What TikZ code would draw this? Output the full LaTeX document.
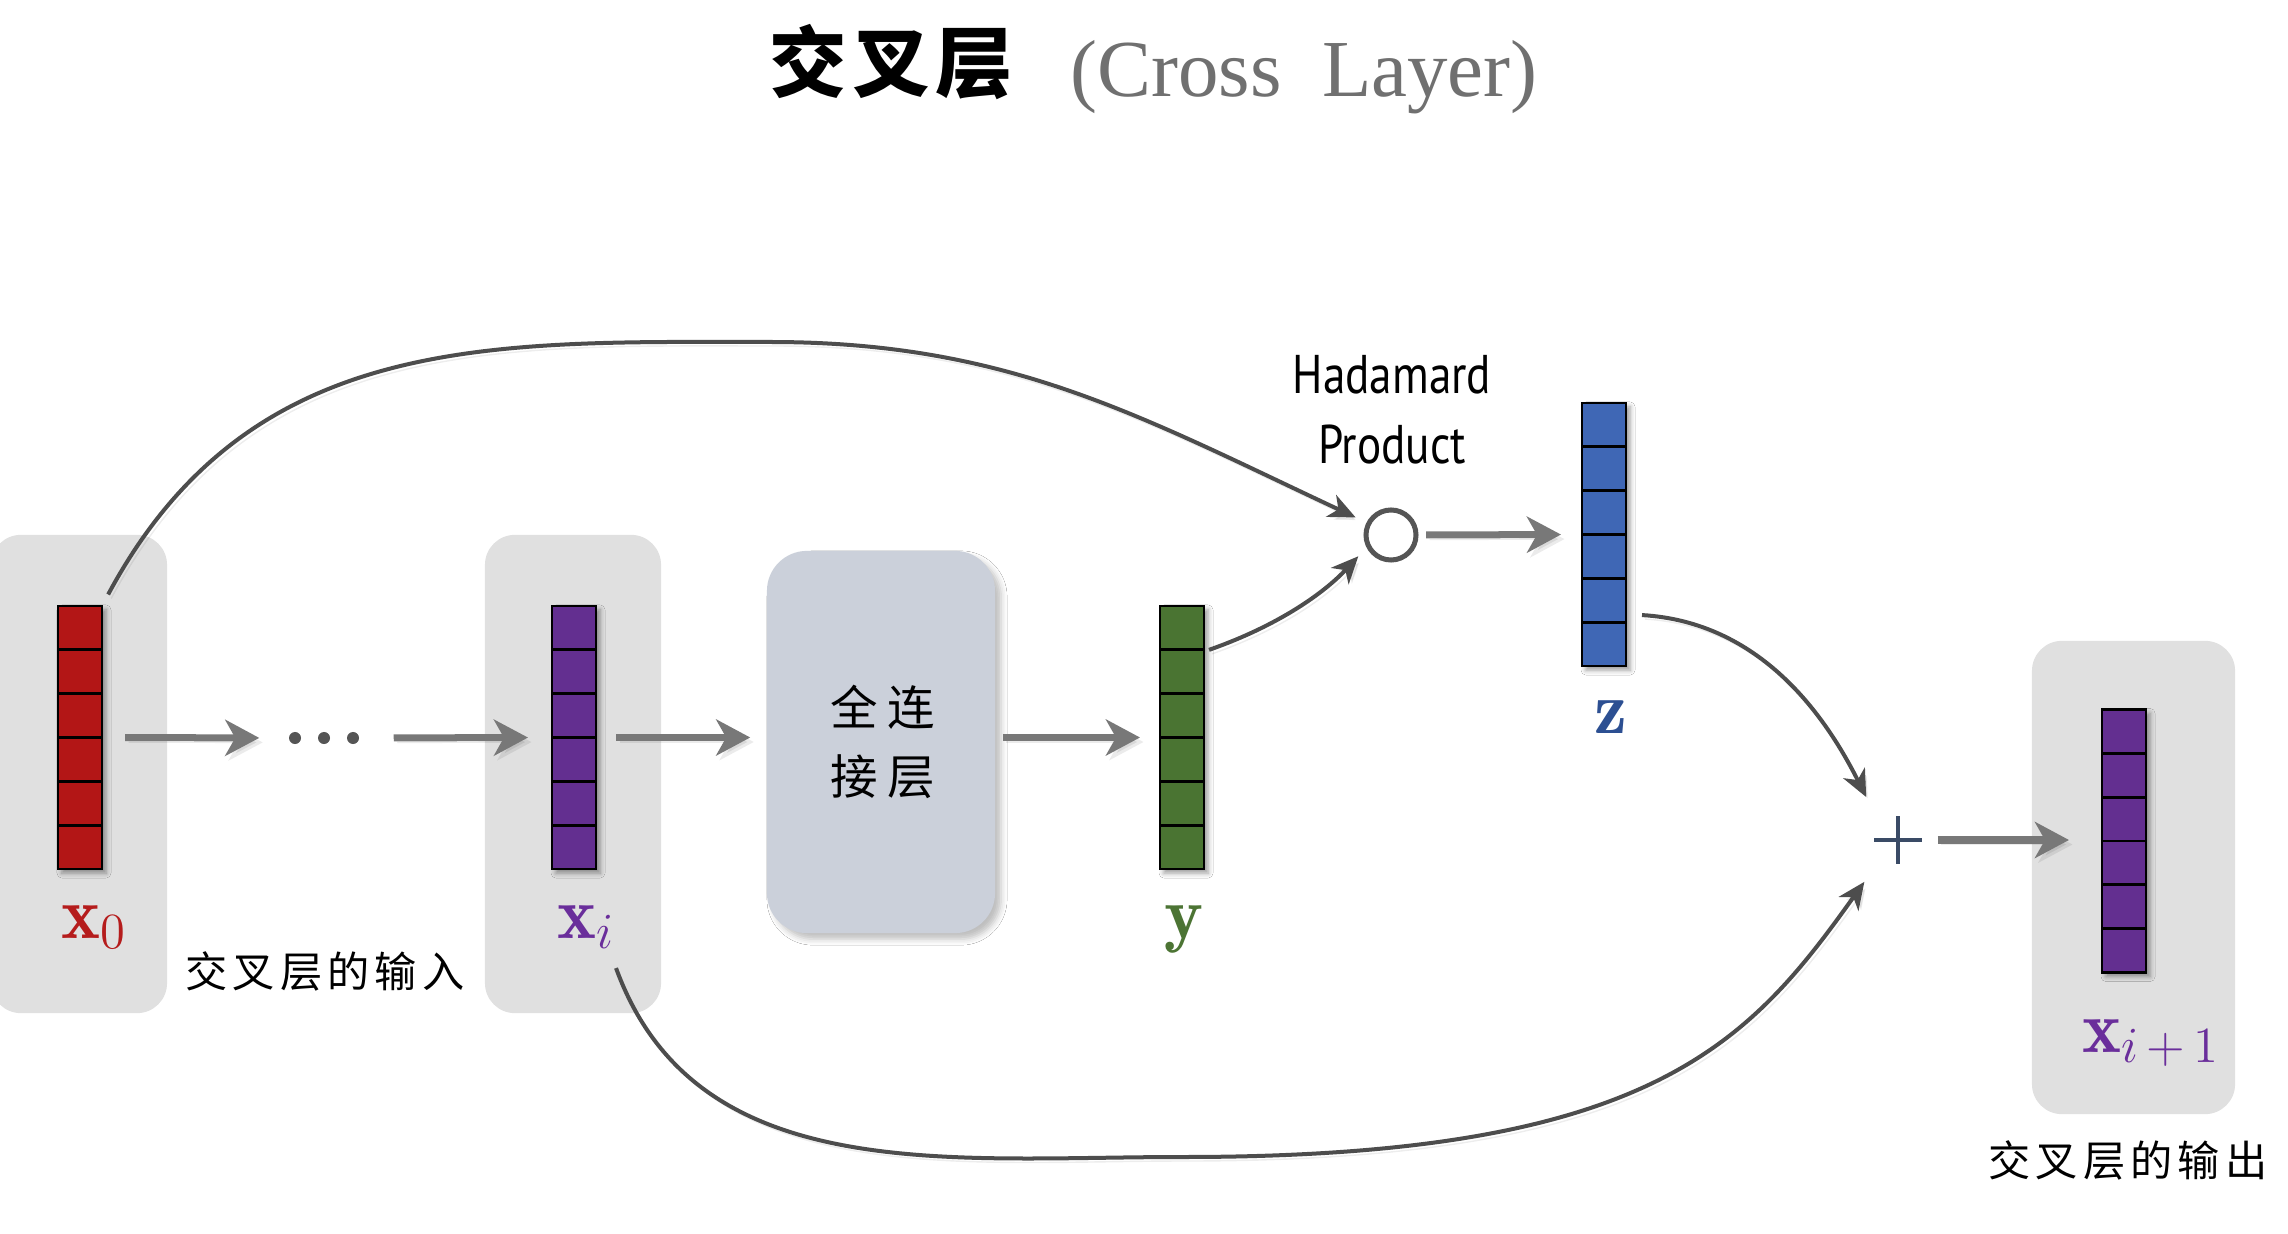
\documentclass[tikz,border=0pt]{standalone}
\usepackage{fontspec}
\newfontfamily\cjk{Noto Sans CJK SC}
\newfontfamily\serifgray{Liberation Serif}
\newfontfamily\hfont[FakeStretch=0.83]{PT Sans}
\usetikzlibrary{arrows.meta,calc,shadows.blur}
\definecolor{cred}{HTML}{B31616}
\definecolor{cpurple}{HTML}{632F90}
\definecolor{cgreen}{HTML}{4A7432}
\definecolor{cblue}{HTML}{3F67B5}
\definecolor{lred}{HTML}{B51C1C}
\definecolor{lpurple}{HTML}{6A2E9B}
\definecolor{lgreen}{HTML}{4C7434}
\definecolor{lblue}{HTML}{2C4F92}
\definecolor{panelgray}{HTML}{E0E0E0}
\definecolor{fcfill}{HTML}{CBD0DA}
\definecolor{shaftgray}{HTML}{787878}
\definecolor{curvegray}{HTML}{4D4D4D}
\definecolor{plusblue}{HTML}{3A4B66}
\definecolor{circgray}{HTML}{555555}
\definecolor{titlegray}{HTML}{707070}
\tikzset{
  vecbox/.style={draw=black, line width=0.028cm, minimum width=0.44cm, minimum height=2.63cm, inner sep=0pt, outer sep=0pt,
    blur shadow={shadow xshift=0.04cm, shadow yshift=-0.04cm, shadow blur radius=0.05cm, shadow opacity=40}},
  panelbox/.style={fill=panelgray, rounded corners=0.3cm, inner sep=0pt, minimum width=1.76cm, minimum height=4.78cm},
  fcbox/.style={fill=fcfill, rounded corners=0.4cm, inner sep=0pt, minimum width=2.28cm, minimum height=3.82cm,
    blur shadow={shadow xshift=0.06cm, shadow yshift=-0.06cm, shadow blur radius=0.06cm, shadow opacity=25}},
  gshaft/.style={draw=shaftgray, line width=0.07cm, -{Stealth[length=0.34cm,width=0.36cm,inset=0.1cm]},
    preaction={draw=black, opacity=0.08, transform canvas={shift={(0.035cm,-0.045cm)}}}},
  gcurve/.style={draw=curvegray, line width=0.04cm, -{Stealth[length=0.27cm,width=0.24cm,inset=0.08cm]},
    preaction={draw=black, opacity=0.07, transform canvas={shift={(0.03cm,-0.04cm)}}}},
  veclabel/.style={anchor=base, font=\fontsize{21}{25}\selectfont},
  cjklabel/.style={font=\cjk\addfontfeatures{LetterSpace=12}\fontsize{12}{14}\selectfont},
}
\newcommand\drawvec[4]{%
  \node[vecbox, fill=#4] (#1) at (#2,#3) {};
  \foreach \k in {1,...,5}
    \draw[line width=0.028cm] ($(#1.north west)!\k/6!(#1.south west)$) -- ($(#1.north east)!\k/6!(#1.south east)$);
}
\begin{document}
\begin{tikzpicture}[x=0.01cm, y=-0.01cm]
\fill[white] (0,0) rectangle (2288,1234);
\useasboundingbox (0,0) rectangle (2288,1234);

% title
\node[anchor=base, font=\cjk\bfseries\addfontfeatures{LetterSpace=7}\fontsize{22}{26}\selectfont] (t1) at (891,92) {交叉层};
\node[anchor=base, text=titlegray, font=\serifgray\fontsize{23}{28}\selectfont] (t2) at (1304,97) {(Cross\ \ Layer)};

% panels
\node[panelbox] (p0) at (79,774) {};
\node[panelbox] (pi) at (573,774) {};
\node[panelbox, minimum width=2.03cm, minimum height=4.73cm] (po) at (2133.5,877.5) {};

% vectors
\drawvec{x0v}{80}{737.5}{cred}
\drawvec{xiv}{574}{737.5}{cpurple}
\drawvec{yv}{1182}{737.5}{cgreen}
\drawvec{zv}{1604}{534.5}{cblue}
\drawvec{xov}{2124}{841}{cpurple}

% labels
\node[veclabel, text=lred] (x0l) at (94,938) {$\mathbf{x}_0$};
\node[veclabel, text=lpurple] (xil) at (586,938) {$\mathbf{x}_i$};
\node[veclabel, text=lgreen] (yl) at (1184,938) {$\mathbf{y}$};
\node[veclabel, text=lblue] (zl) at (1611,733) {$\mathbf{z}$};
\node[veclabel, text=lpurple] (xol) at (2151,1052) {$\mathbf{x}_{i\,+\,1}$};

\node[cjklabel] (inl) at (325,971) {交叉层的输入};
\node[cjklabel] (outl) at (2128,1160) {交叉层的输出};

% dots
\node[minimum width=0.7cm, minimum height=0.2cm, inner sep=0pt] (dots) at (324,738) {};
\foreach \dx in {-29,0,29} \fill[circgray] ($(dots.center)+(\dx,0)$) circle (0.06cm);

% fully connected layer
\node[fcbox] (fc) at (881,742) {};
\node[font=\cjk\addfontfeatures{LetterSpace=20}\fontsize{13.5}{19.6}\selectfont, align=center] (fct) at ($(fc.center)+(2,0)$) {全连\\接层};

% hadamard
\node[circle, draw=circgray, line width=0.05cm, minimum size=0.5cm, inner sep=0pt] (had) at (1391,535) {};
\node[font=\hfont\fontsize{15.5}{20}\selectfont, align=center] (hl) at (1392,410) {Hadamard\\Product};

% plus
\node[circle, minimum size=0.78cm, inner sep=0pt] (plus) at (1898,840) {};
\draw[plusblue, line width=0.045cm] ($(plus.center)+(-24,0)$) -- ($(plus.center)+(24,0)$);
\draw[plusblue, line width=0.045cm] ($(plus.center)+(0,-24)$) -- ($(plus.center)+(0,24)$);

% straight arrows
\draw[gshaft, shorten <=0.23cm, shorten >=0.29cm] (x0v.east) -- (dots.west);
\draw[gshaft, shorten <=0.34cm, shorten >=0.24cm] (dots.east) -- (xiv.west);
\draw[gshaft, shorten <=0.2cm, shorten >=0.16cm] (xiv.east) -- (xiv.east -| fc.west);
\draw[gshaft, shorten <=0.07cm, shorten >=0.2cm] (yv.west -| fc.east) -- (yv.west);
\draw[gshaft, shorten <=0.075cm, shorten >=0.21cm] (had.east) -- (zv.west);
\draw[gshaft, shorten >=0.33cm] (plus.east) -- (plus.east -| xov.west);

% curves
\draw[gcurve, shorten <=0.13cm, shorten >=0.12cm] (x0v.north east) .. controls (250,330) and (493,342) .. (770,342)
   .. controls (1009,342) and (1139,416) .. (had.153);
\draw[gcurve, shorten >=0.12cm] ($(yv.north east)!0.167!(yv.south east)+(5,0)$) .. controls (1280,625) and (1325,592) .. (had.207);
\draw[gcurve, shorten >=0.14cm] ($(zv.south east)+(16,-51)$) .. controls (1760,622) and (1825,715) .. (plus.130);
\draw[gcurve, shorten >=0.14cm] ($(xiv.south east)+(20,99)$) .. controls (696,1188) and (949,1157) .. (1183,1157)
   .. controls (1650,1157) and (1748,1045) .. (plus.230);
\end{tikzpicture}
\end{document}
